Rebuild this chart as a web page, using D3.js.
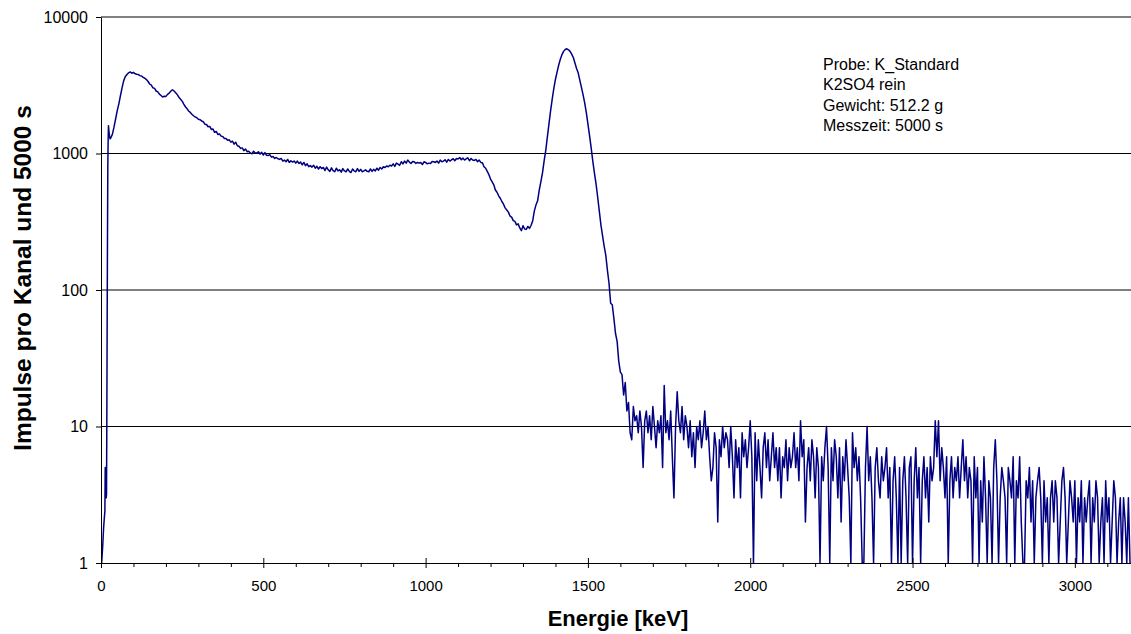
<!DOCTYPE html>
<html>
<head>
<meta charset="utf-8">
<script src="https://cdn.jsdelivr.net/npm/d3@7"></script>
<style>
  html, body { margin: 0; padding: 0; background: #fff; }
  svg { display: block; font-family: "Liberation Sans", Arial, sans-serif; }
</style>
</head>
<body>
<svg id="chart" width="1131" height="634"></svg>
<script>
// ---------- data ----------
// first channels (keV, counts) - steep rise of the spectrum
const lowEnergy = [2, 5, 8, 10, 12, 13, 14, 15, 16, 17, 18, 19, 20, 21, 22, 23, 24, 26, 28, 30];
const lowCounts = [1, 1.3, 1.8, 2.1, 2.4, 5, 3, 5, 3, 3.2, 12, 60, 250, 800, 1250, 1600, 1500, 1350, 1280, 1300];

// spectrum on a 5 keV channel grid
const gridStart = 35;   // keV of first value in mainCounts
const gridStep = 5;     // keV per channel
const mainCounts = [
  1380,1560,1790,2060,2310,2660,3040,3420,3660,3790,
  3900,3960,3870,3930,3840,3810,3790,3720,3700,3610,
  3560,3480,3370,3230,3170,3030,3000,2870,2830,2720,
  2660,2590,2630,2620,2710,2770,2860,2930,2870,2790,
  2700,2580,2500,2420,2300,2200,2130,2050,2000,1940,
  1890,1850,1830,1780,1770,1730,1710,1640,1630,1570,
  1580,1500,1510,1430,1450,1380,1390,1340,1330,1290,
  1290,1250,1260,1210,1230,1170,1210,1140,1130,1090,
  1100,1050,1080,1030,1040,1010,995,1040,1010,1010,
  1030,990,1020,975,1015,970,965,980,940,950,
  920,935,915,905,920,880,895,870,905,860,
  885,865,880,850,880,845,865,825,860,815,
  840,800,815,795,820,780,805,770,800,775,
  790,750,795,760,740,785,750,735,780,745,
  760,730,775,745,735,770,740,725,770,745,
  735,775,740,765,735,745,760,740,735,770,
  740,765,745,780,755,790,770,800,790,810,
  800,820,810,840,805,850,835,820,870,840,
  880,850,895,865,845,875,870,845,860,850,
  860,830,870,860,840,850,845,875,870,860,
  880,850,895,870,880,900,865,905,880,900,
  915,885,920,910,935,900,925,895,915,930,
  885,920,895,890,905,870,895,860,855,800,
  780,740,700,650,620,590,540,520,490,470,
  445,425,400,385,372,348,342,322,318,300,
  305,285,272,296,280,278,292,283,298,322,
  380,420,450,540,620,720,880,1050,1320,1650,
  2050,2500,3000,3500,3950,4450,4900,5300,5600,5780,
  5850,5750,5600,5350,5050,4600,4200,3900,3450,3050,
  2700,2350,2000,1650,1350,1100,880,720,600,480,
  380,300,250,210,180,140,112,80,78,62,
  48,42,30,25,24,17,21,13,15,9
];
// noisy tail, continues the same grid (from 1635 keV)
const tailCounts = [
  8,14,11,12,9,13,10,5,11,13,
  9,12,8,14,10,7,11,9,12,5,
  20,9,11,8,13,6,3,10,18,11,
  9,14,8,12,10,7,11,6,9,5,
  10,8,11,7,9,13,8,10,6,4,
  5,9,7,2,8,6,10,7,9,8,
  5,10,6,3,8,5,7,3,9,6,
  8,5,7,11,6,1,9,4,8,5,
  3,7,9,5,8,4,6,9,5,7,
  4,7,3,6,5,8,4,7,5,6,
  9,5,7,4,11,6,8,2,5,7,
  4,8,6,3,7,5,1,6,4,7,
  10,5,1,7,4,8,6,3,7,2,
  6,4,8,5,3,1,9,5,7,4,
  6,3,1,1,5,10,4,6,3,1,
  5,7,4,3,6,4,5,7,3,5,
  1,4,6,3,1,5,1,4,6,3,
  1,5,6,1,4,7,3,5,1,4,
  6,3,5,2,6,4,5,11,6,11,
  4,7,5,3,6,1,4,6,3,5,
  4,6,3,5,8,4,6,3,5,4,
  1,6,3,5,1,4,2,6,3,1,
  4,3,1,5,8,4,1,3,5,4,
  3,1,5,4,3,6,1,4,3,6,
  2,1,1,4,3,5,2,4,1,3,
  4,5,3,1,4,2,3,1,3,4,
  2,4,3,1,2,4,5,3,1,2,
  4,3,2,4,1,3,2,4,1,3,
  2,3,4,1,3,2,4,3,1,2,
  3,1,4,2,3,1,2,4,3,1,
  2,3,1,3,2,1,3,1
];

const yTicks = [1, 10, 100, 1000, 10000];
const xMajorTicks = [0, 500, 1000, 1500, 2000, 2500, 3000];
const xMinorTicks = [100,200,300,400,600,700,800,900,1100,1200,1300,1400,1600,1700,1800,1900,
                     2100,2200,2300,2400,2600,2700,2800,2900,3100];
const infoLines = ["Probe: K_Standard", "K2SO4 rein", "Gewicht: 512.2 g", "Messzeit: 5000 s"];
const xTitle = "Energie [keV]";
const yTitle = "Impulse pro Kanal und 5000 s";

// ---------- build series ----------
const series = [];
lowEnergy.forEach((e, i) => series.push({ e: e, c: lowCounts[i] }));
mainCounts.concat(tailCounts).forEach((c, i) => series.push({ e: gridStart + i * gridStep, c: c }));

// ---------- layout ----------
const svg = d3.select("#chart");
const plotLeft = 101, plotRight = 1131, plotTop = 17, plotBottom = 563;

const x = d3.scaleLinear().domain([0, 3173]).range([plotLeft, plotRight]);
const y = d3.scaleLog().domain([1, 10000]).range([plotBottom, plotTop]);

// gridlines
svg.append("g").selectAll("line")
  .data(yTicks.filter(d => d > 1))
  .join("line")
  .attr("x1", plotLeft).attr("x2", plotRight)
  .attr("y1", d => y(d)).attr("y2", d => y(d))
  .attr("stroke", "#000").attr("stroke-width", 1);

// clip
svg.append("clipPath").attr("id", "plotclip")
  .append("rect").attr("x", plotLeft).attr("y", plotTop - 2)
  .attr("width", plotRight - plotLeft).attr("height", plotBottom - plotTop + 2);

// line
const line = d3.line()
  .x(d => x(d.e))
  .y(d => y(Math.max(1, d.c)));

svg.append("path")
  .datum(series)
  .attr("clip-path", "url(#plotclip)")
  .attr("fill", "none")
  .attr("stroke", "#000080")
  .attr("stroke-width", 1.5)
  .attr("stroke-linejoin", "round")
  .attr("d", line);

// y axis
const yAxis = svg.append("g")
  .attr("transform", `translate(${plotLeft},0)`)
  .call(d3.axisLeft(y).tickValues(yTicks).tickFormat(d3.format("d")).tickSize(5).tickSizeOuter(0).tickPadding(8));
yAxis.selectAll("text").attr("font-size", 16).attr("font-family", "'Liberation Sans', Arial, sans-serif").attr("fill", "#000");
yAxis.select(".domain").attr("stroke", "#000");
yAxis.selectAll(".tick line").attr("stroke", "#000");

// x axis major
const xAxis = svg.append("g")
  .attr("transform", `translate(0,${plotBottom})`)
  .call(d3.axisBottom(x).tickValues(xMajorTicks).tickFormat(d3.format("d")).tickSize(5).tickSizeOuter(0).tickPadding(12));
xAxis.selectAll(".tick line").attr("y1", -5).attr("y2", 5).attr("stroke", "#000");
xAxis.selectAll("text").attr("font-size", 15).attr("font-family", "'Liberation Sans', Arial, sans-serif").attr("fill", "#000");
xAxis.select(".domain").attr("stroke", "#000");

// x axis minor
const xMinor = svg.append("g")
  .attr("transform", `translate(0,${plotBottom})`)
  .call(d3.axisBottom(x).tickValues(xMinorTicks).tickFormat("").tickSize(4).tickSizeOuter(0));
xMinor.select(".domain").remove();
xMinor.selectAll(".tick line").attr("stroke", "#000");

// titles
svg.append("text")
  .attr("x", 618).attr("y", 626)
  .attr("text-anchor", "middle")
  .attr("font-size", 22).attr("font-weight", "bold")
  .text(xTitle);

svg.append("text")
  .attr("transform", "translate(31,278) rotate(-90)")
  .attr("text-anchor", "middle")
  .attr("font-size", 24.5).attr("font-weight", "bold")
  .text(yTitle);

// info box
svg.append("g").selectAll("text")
  .data(infoLines)
  .join("text")
  .attr("x", 823)
  .attr("y", (d, i) => 70 + i * 20.3)
  .attr("font-size", 16)
  .text(d => d);
</script>
</body>
</html>
